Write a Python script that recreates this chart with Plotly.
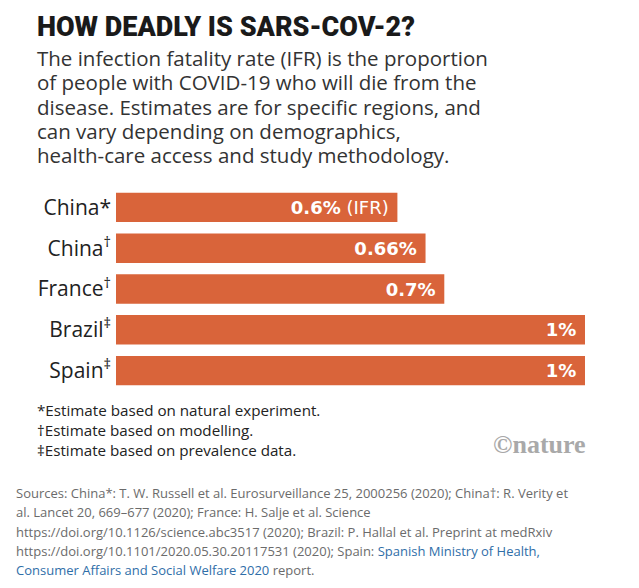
import plotly.graph_objects as go

# data
regions = ["China*", "China<sup>†</sup>", "France<sup>†</sup>", "Brazil<sup>‡</sup>", "Spain<sup>‡</sup>"]
ifr = [0.6, 0.66, 0.7, 1.0, 1.0]
bar_labels = ["<b>0.6%</b> (IFR)", "<b>0.66%</b>", "<b>0.7%</b>", "<b>1%</b>", "<b>1%</b>"]

title = "HOW DEADLY IS SARS-COV-2?"
subtitle_lines = [
    "The infection fatality rate (IFR) is the proportion",
    "of people with COVID-19 who will die from the",
    "disease. Estimates are for specific regions, and",
    "can vary depending on demographics,",
    "health-care access and study methodology.",
]
footnotes = [
    "*Estimate based on natural experiment.",
    "†Estimate based on modelling.",
    "‡Estimate based on prevalence data.",
]
LINK = "#2f6ea8"
sources = [
    "Sources: China*: T. W. Russell et al. Eurosurveillance 25, 2000256 (2020); China†: R. Verity et",
    "al. Lancet 20, 669–677 (2020); France: H. Salje et al. Science",
    "https://doi.org/10.1126/science.abc3517 (2020); Brazil: P. Hallal et al. Preprint at medRxiv",
    "https://doi.org/10.1101/2020.05.30.20117531 (2020); Spain: "
    f"<span style='color:{LINK}'>Spanish Ministry of Health,</span>",
    f"<span style='color:{LINK}'>Consumer Affairs and Social Welfare 2020</span> report.",
]

W, H = 639, 588
# plot area in pixels
L, R = 116, 585
T, B = 186.5, 391.5


def px_x(x):
    return (x - L) / (R - L)


def px_y(y):
    return (B - y) / (B - T)


fig = go.Figure(
    go.Bar(
        x=ifr,
        y=regions,
        orientation="h",
        marker=dict(color="#d9643a", line_width=0),
        text=[t + "\u00a0" for t in bar_labels],
        textposition="inside",
        insidetextanchor="end",
        textfont=dict(family="DejaVu Sans", size=18, color="white"),
        hoverinfo="skip",
    )
)

annots = []
annots.append(dict(
    text=title, x=px_x(35), y=px_y(25.5),
    font=dict(family="Roboto", size=27, weight=900, color="#1a1a1a"),
))
for i, line in enumerate(subtitle_lines):
    annots.append(dict(
        text=line, x=px_x(35), y=px_y(56.8 + 24.5 * i),
        font=dict(family="Open Sans", size=20.5, color="#333333"),
    ))
annots.append(dict(
    text="<br>".join(footnotes), x=px_x(35), y=px_y(430.3),
    font=dict(family="Open Sans", size=15.2, color="#222222"),
))
for i, line in enumerate(sources):
    annots.append(dict(
        text=line, x=px_x(14), y=px_y([494.3, 513.3, 533.3, 552.3, 571.3][i]),
        font=dict(family="Open Sans", size=13, color="#6b6b6b"),
    ))
for a in annots:
    a.update(xref="paper", yref="paper", xanchor="left", yanchor="middle",
             align="left", showarrow=False)
annots.append(dict(
    text="<b>©nature</b>", x=px_x(588), y=px_y(445), xref="paper", yref="paper",
    xanchor="right", yanchor="middle", showarrow=False,
    font=dict(family="Liberation Serif", size=26, color="#a9a9a9"),
))

fig.update_layout(
    width=W,
    height=H,
    margin=dict(l=L, r=W - R, t=T, b=H - B),
    paper_bgcolor="white",
    plot_bgcolor="white",
    bargap=0.28,
    showlegend=False,
    annotations=annots,
)
fig.update_xaxes(range=[0, 1], visible=False, fixedrange=True)
fig.update_yaxes(
    autorange="reversed",
    showgrid=False,
    zeroline=False,
    showline=False,
    ticks="",
    tickfont=dict(family="Open Sans", size=21, color="#222222"),
    ticklabelstandoff=4,
    fixedrange=True,
)

# the page's default body margin would push the chart 8px off
fig.write_html(
    "out.html",
    config={"displayModeBar": False},
    post_script="document.body.style.margin='0';",
)
